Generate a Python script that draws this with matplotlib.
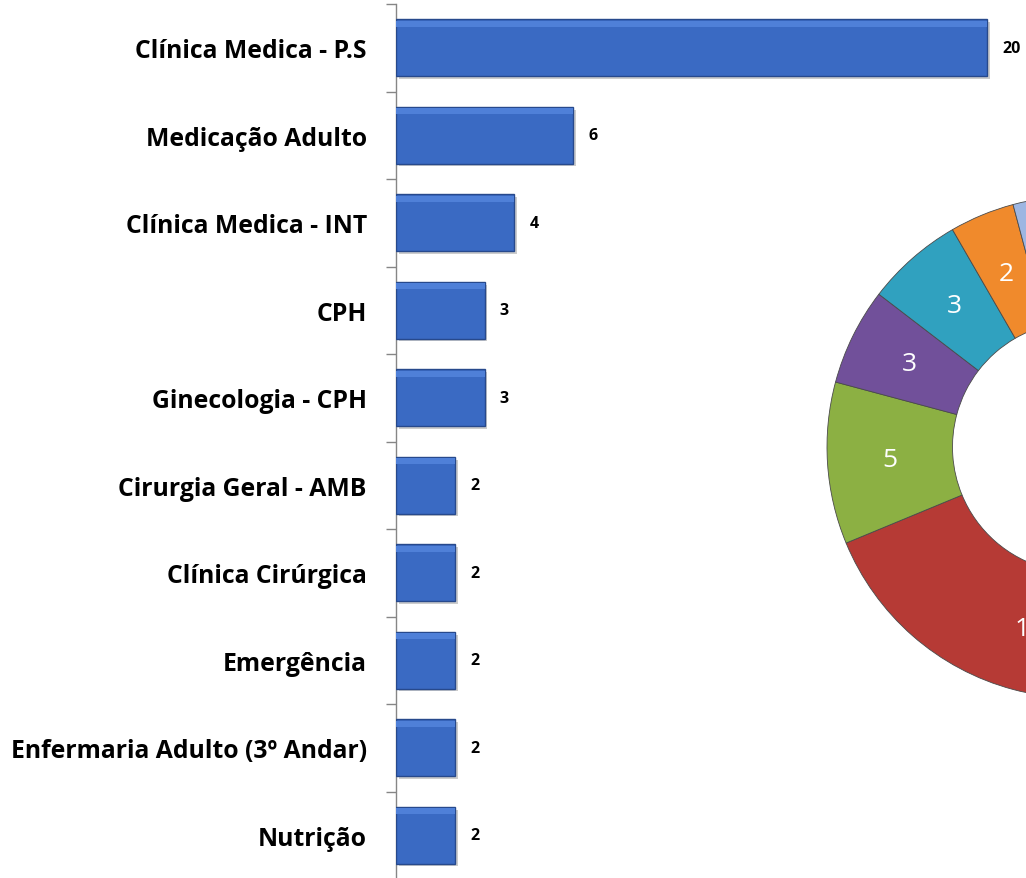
import matplotlib
matplotlib.use("Agg")
import matplotlib.pyplot as plt
import matplotlib.patheffects as pe
import numpy as np

plt.rcParams['font.family'] = ['Open Sans', 'DejaVu Sans']

# Bar chart data (top to bottom)
categories = ["Clínica Medica - P.S", "Medicação Adulto", "Clínica Medica - INT",
              "CPH", "Ginecologia - CPH", "Cirurgia Geral - AMB", "Clínica Cirúrgica",
              "Emergência", "Enfermaria Adulto (3º Andar)", "Nutrição"]
values = [20, 6, 4, 3, 3, 2, 2, 2, 2, 2]

# Donut data (clockwise from top); first segment lies off the right edge
donut_groups = ["Grupo 1", "Grupo 2", "Grupo 3", "Grupo 4", "Grupo 5", "Grupo 6", "Grupo 7"]
donut_values = [19, 14, 5, 3, 3, 2, 2]
donut_colors = ["#4A7CC0", "#B63A35", "#8CB043", "#71509A", "#30A1BF", "#F08A2C", "#9DB6E2"]

W, H = 1026, 879
fig = plt.figure(figsize=(W / 100, H / 100), dpi=100)

# ---- bar chart ----
ax_left, ax_top, ax_bot = 396, 5, 880
px_per_unit = 29.55
ax = fig.add_axes([ax_left / W, 1 - ax_bot / H, (W - ax_left) / W, (ax_bot - ax_top) / H])
n = len(categories)
y = np.arange(n)
bars = ax.barh(y, values, height=0.65, color="#3A6AC3", edgecolor="#27498C", linewidth=1.0,
               zorder=3)
for b in bars:
    b.set_path_effects([pe.SimplePatchShadow(offset=(2, -2), shadow_rgbFace="#9A9A9A", alpha=0.5),
                        pe.Normal()])
# soft bevel highlight along top of each bar
ax.barh(y - 0.65 / 2 + 0.05, values, height=0.07, color="#4F80D8", linewidth=0, zorder=4)
ax.set_xlim(0, (W - ax_left) / px_per_unit)
ax.set_ylim(n - 0.5, -0.5)
ax.bar_label(bars, labels=[str(v) for v in values], padding=11, fontsize=11.5,
             fontweight="bold", color="black")

for s in ["top", "right", "bottom"]:
    ax.spines[s].set_visible(False)
ax.spines["left"].set_color("#868686")
ax.spines["left"].set_linewidth(1.0)
ax.set_xticks([])
ax.set_yticks(np.arange(-0.5, n, 1.0))
ax.set_yticklabels([])
ax.tick_params(axis="y", which="major", length=7, width=1, color="#868686", direction="out")
ax.set_yticks(y, minor=True)
ax.set_yticklabels(categories, minor=True, fontsize=17.8, fontweight="bold")
ax.tick_params(axis="y", which="minor", length=0, pad=21)
ax.patch.set_alpha(0)

# ---- donut chart (partially outside figure) ----
cx, cy, R = 1078, 448, 251
dax = fig.add_axes([(cx - R) / W, 1 - (cy + R) / H, 2 * R / W, 2 * R / H])
wedges, _ = dax.pie(donut_values, colors=donut_colors, startangle=90, counterclock=False,
                    radius=1.0, wedgeprops=dict(width=0.5, edgecolor="#4a4a4a", linewidth=0.6))
for w, v in zip(wedges, donut_values):
    ang = np.deg2rad((w.theta1 + w.theta2) / 2)
    dax.text(0.75 * np.cos(ang), 0.75 * np.sin(ang), str(v), ha="center", va="center",
             color="white", fontsize=19)
dax.set_xlim(-1, 1)
dax.set_ylim(-1, 1)
dax.set_aspect("auto")
dax.axis("off")

fig.savefig("out.png", dpi=100)
